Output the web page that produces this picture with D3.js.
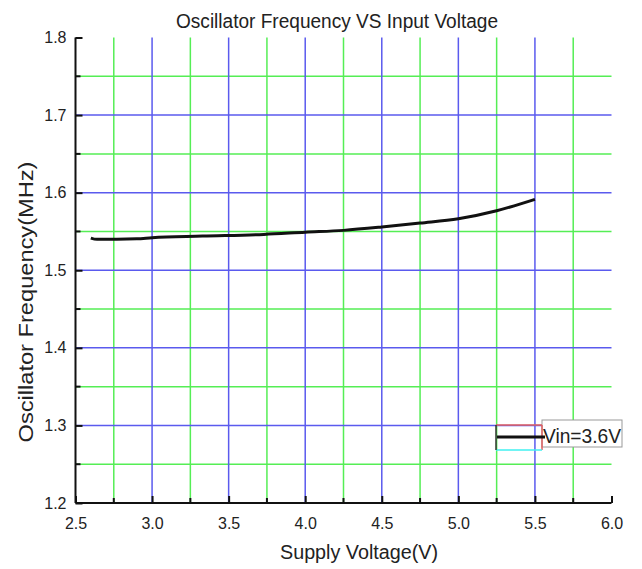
<!DOCTYPE html>
<html>
<head>
<meta charset="utf-8">
<script src="https://cdn.jsdelivr.net/npm/d3@7"></script>
<style>
body{margin:0;background:#fff}
text{font-family:"Liberation Sans",Arial,sans-serif;fill:#222}
</style>
</head>
<body>
<svg id="chart" width="642" height="569"></svg>
<script>
// supply voltage (V) and frequency (MHz)
var voltage = [2.6, 2.64, 2.9, 3.0, 3.33, 3.73, 4.0, 4.25, 4.5, 4.75, 5.0, 5.25, 5.5]
var freq = [1.5415, 1.5398, 1.5406, 1.542, 1.544, 1.5462, 1.549, 1.5514, 1.5557, 1.5608, 1.5664, 1.5767, 1.5914]
var xMajor = [2.5, 3.0, 3.5, 4.0, 4.5, 5.0, 5.5, 6.0]
var xMinor = [2.75, 3.25, 3.75, 4.25, 4.75, 5.25, 5.75]
var yMajor = [1.2, 1.3, 1.4, 1.5, 1.6, 1.7, 1.8]
var yMinor = [1.25, 1.35, 1.45, 1.55, 1.65, 1.75]
var seriesName = 'Vin=3.6V'

var svg = d3.select('#chart')
var x = d3.scaleLinear().domain([2.5, 6.0]).range([75.5, 611.5])
var y = d3.scaleLinear().domain([1.2, 1.8]).range([503, 37.5])

// grid
var grid = svg.append('g')
grid.selectAll('.gxm').data(xMinor).enter().append('line')
	.attr('x1', d => x(d)).attr('x2', d => x(d))
	.attr('y1', y(1.8)).attr('y2', y(1.2))
	.attr('stroke', '#55ee55').attr('stroke-width', 1.5)
grid.selectAll('.gym').data(yMinor).enter().append('line')
	.attr('y1', d => y(d)).attr('y2', d => y(d))
	.attr('x1', x(2.5)).attr('x2', x(6.0))
	.attr('stroke', '#55ee55').attr('stroke-width', 1.5)
grid.selectAll('.gxM').data(xMajor.slice(1, -1)).enter().append('line')
	.attr('x1', d => x(d)).attr('x2', d => x(d))
	.attr('y1', y(1.8)).attr('y2', y(1.2))
	.attr('stroke', '#5a5aee').attr('stroke-width', 1.5)
grid.selectAll('.gyM').data(yMajor.slice(1, -1)).enter().append('line')
	.attr('y1', d => y(d)).attr('y2', d => y(d))
	.attr('x1', x(2.5)).attr('x2', x(6.0))
	.attr('stroke', '#5a5aee').attr('stroke-width', 1.5)

// axes, ticks pointing inward
var xAxis = d3.axisBottom(x).tickValues(xMajor).tickSize(-7).tickFormat(d3.format('.1f'))
var gx = svg.append('g').attr('transform', 'translate(0,' + y(1.2) + ')').call(xAxis)
gx.selectAll('.tick line').attr('stroke', '#111').attr('stroke-width', 2)
gx.selectAll('.tick text').attr('dy', 0).attr('y', 26).attr('font-size', 16)
gx.select('.domain').attr('stroke', '#111').attr('stroke-width', 2).attr('d', 'M' + x(2.5) + ',0H' + x(6.0))
gx.selectAll('.minor').data(xMinor).enter().append('line')
	.attr('x1', d => x(d)).attr('x2', d => x(d)).attr('y1', 0).attr('y2', -5)
	.attr('stroke', '#111').attr('stroke-width', 2)

var yAxis = d3.axisLeft(y).tickValues(yMajor).tickSize(-7).tickFormat(d3.format('.1f'))
var gy = svg.append('g').attr('transform', 'translate(' + x(2.5) + ',0)').call(yAxis)
gy.selectAll('.tick line').attr('stroke', '#111').attr('stroke-width', 2)
gy.selectAll('.tick text').attr('x', -9).attr('font-size', 16)
gy.select('.domain').attr('stroke', '#111').attr('stroke-width', 2).attr('d', 'M0,' + y(1.8) + 'V' + y(1.2))
gy.selectAll('.minor').data(yMinor).enter().append('line')
	.attr('y1', d => y(d)).attr('y2', d => y(d)).attr('x1', 0).attr('x2', 5)
	.attr('stroke', '#111').attr('stroke-width', 2)
svg.selectAll('.domain').attr('fill', 'none')
svg.selectAll('.tick text').style('fill', '#222')

// curve
var line = d3.line().x((d, i) => x(voltage[i])).y(d => y(d)).curve(d3.curveMonotoneX)
svg.append('path').datum(freq).attr('d', line)
	.attr('fill', 'none').attr('stroke', '#111').attr('stroke-width', 3)

// titles
svg.append('text').attr('x', 337).attr('y', 28).attr('text-anchor', 'middle')
	.attr('font-size', 20).attr('textLength', 322).attr('lengthAdjust', 'spacingAndGlyphs')
	.text('Oscillator Frequency VS Input Voltage')
svg.append('text').attr('x', 359).attr('y', 559).attr('text-anchor', 'middle')
	.attr('font-size', 20).attr('textLength', 158).attr('lengthAdjust', 'spacingAndGlyphs')
	.text('Supply Voltage(V)')
svg.append('text').attr('transform', 'translate(33,302) rotate(-90)').attr('text-anchor', 'middle')
	.attr('font-size', 20).attr('textLength', 281).attr('lengthAdjust', 'spacingAndGlyphs')
	.text('Oscillator Frequency(MHz)')

// legend
var lg = svg.append('g')
lg.append('rect').attr('x', 542).attr('y', 420).attr('width', 80).attr('height', 27)
	.attr('fill', '#fff').attr('stroke', '#999').attr('stroke-width', 1)
lg.append('line').attr('x1', 496).attr('x2', 542).attr('y1', 425).attr('y2', 425).attr('stroke', '#e06060').attr('stroke-width', 1.5)
lg.append('line').attr('x1', 542).attr('x2', 542).attr('y1', 425).attr('y2', 450).attr('stroke', '#e06060').attr('stroke-width', 1.5)
lg.append('line').attr('x1', 496).attr('x2', 542).attr('y1', 450).attr('y2', 450).attr('stroke', '#40f0f0').attr('stroke-width', 1.5)
lg.append('line').attr('x1', 496).attr('x2', 496).attr('y1', 425).attr('y2', 450).attr('stroke', '#333').attr('stroke-width', 1.5)
lg.append('line').attr('x1', 497).attr('x2', 545).attr('y1', 437).attr('y2', 437).attr('stroke', '#111').attr('stroke-width', 3)
lg.append('text').attr('x', 543).attr('y', 443).attr('font-size', 20)
	.attr('textLength', 78).attr('lengthAdjust', 'spacingAndGlyphs').text(seriesName)
</script>
</body>
</html>
